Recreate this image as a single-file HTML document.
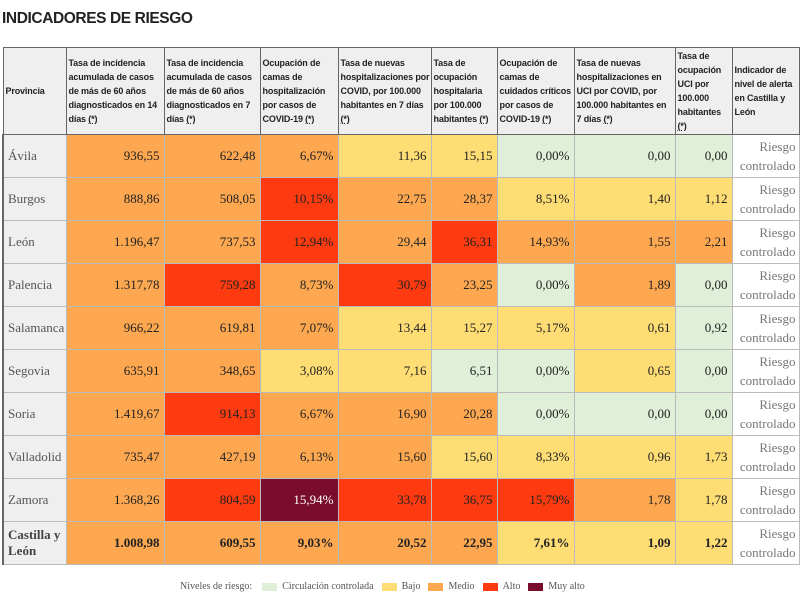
<!DOCTYPE html>
<html><head><meta charset="utf-8"><style>
body{margin:0;width:800px;height:600px;background:#fff;overflow:hidden;position:relative;font-family:"Liberation Serif",serif}
h1{position:absolute;left:2px;top:10px;margin:0;font:bold 15.5px "Liberation Sans",sans-serif;color:#222;letter-spacing:-0.4px}
table{position:absolute;left:2px;top:47px;border-collapse:collapse;table-layout:fixed;width:796px}
th{background:#efefef;border:1px solid #666;font:bold 9px/14px "Liberation Sans",sans-serif;letter-spacing:-0.15px;color:#222;text-align:left;vertical-align:middle;padding:0 1px 0 2px;height:86px}
th u{text-decoration:underline dotted}
td{border:1px solid #bbb;height:42px;padding:0 4px;text-align:right;font-size:13px;color:#222;vertical-align:middle}
td.p{background:#efefef;text-align:left;color:#555;border-left:2px solid #666}
td.w{background:#fff;color:#777;line-height:19px;padding-right:3px}
.G{background:#e0efd7}.Y{background:#fedd75}.O{background:#fda850}.R{background:#fe3b10}.D{background:#7a0c2e;color:#fff}
tr.t td{font-weight:bold}
tr.t td.w{font-weight:normal}
.leg{position:absolute;top:581px;left:180px;font-size:10px;color:#555;white-space:nowrap}
.leg span.s{display:inline-block;width:15px;height:8px;margin:0 5px 0 8px;vertical-align:middle}
</style></head><body>
<h1>INDICADORES DE RIESGO</h1>
<table>
<colgroup><col style="width:63px"><col style="width:98px"><col style="width:96px"><col style="width:78px"><col style="width:93px"><col style="width:66px"><col style="width:77px"><col style="width:101px"><col style="width:57px"><col style="width:67px"></colgroup>
<tr><th>Provincia</th><th>Tasa de incidencia acumulada de casos de más de 60 años diagnosticados en 14 días <u>(*)</u></th><th>Tasa de incidencia acumulada de casos de más de 60 años diagnosticados en 7 días <u>(*)</u></th><th>Ocupación de camas de hospitalización por casos de COVID-19 <u>(*)</u></th><th>Tasa de nuevas hospitalizaciones por COVID, por 100.000 habitantes en 7 días <u>(*)</u></th><th>Tasa de ocupación hospitalaria por 100.000 habitantes <u>(*)</u></th><th>Ocupación de camas de cuidados críticos por casos de COVID-19 <u>(*)</u></th><th>Tasa de nuevas hospitalizaciones en UCI por COVID, por 100.000 habitantes en 7 días <u>(*)</u></th><th>Tasa de ocupación UCI por 100.000 habitantes <u>(*)</u></th><th>Indicador de nivel de alerta en Castilla y León</th></tr>
<tr><td class="p">Ávila</td><td class="O">936,55</td><td class="O">622,48</td><td class="O">6,67%</td><td class="Y">11,36</td><td class="Y">15,15</td><td class="G">0,00%</td><td class="G">0,00</td><td class="G">0,00</td><td class="w">Riesgo controlado</td></tr>
<tr><td class="p">Burgos</td><td class="O">888,86</td><td class="O">508,05</td><td class="R">10,15%</td><td class="O">22,75</td><td class="O">28,37</td><td class="Y">8,51%</td><td class="Y">1,40</td><td class="Y">1,12</td><td class="w">Riesgo controlado</td></tr>
<tr><td class="p">León</td><td class="O">1.196,47</td><td class="O">737,53</td><td class="R">12,94%</td><td class="O">29,44</td><td class="R">36,31</td><td class="O">14,93%</td><td class="O">1,55</td><td class="O">2,21</td><td class="w">Riesgo controlado</td></tr>
<tr><td class="p">Palencia</td><td class="O">1.317,78</td><td class="R">759,28</td><td class="O">8,73%</td><td class="R">30,79</td><td class="O">23,25</td><td class="G">0,00%</td><td class="O">1,89</td><td class="G">0,00</td><td class="w">Riesgo controlado</td></tr>
<tr><td class="p">Salamanca</td><td class="O">966,22</td><td class="O">619,81</td><td class="O">7,07%</td><td class="Y">13,44</td><td class="Y">15,27</td><td class="Y">5,17%</td><td class="Y">0,61</td><td class="G">0,92</td><td class="w">Riesgo controlado</td></tr>
<tr><td class="p">Segovia</td><td class="O">635,91</td><td class="O">348,65</td><td class="Y">3,08%</td><td class="Y">7,16</td><td class="G">6,51</td><td class="G">0,00%</td><td class="Y">0,65</td><td class="G">0,00</td><td class="w">Riesgo controlado</td></tr>
<tr><td class="p">Soria</td><td class="O">1.419,67</td><td class="R">914,13</td><td class="O">6,67%</td><td class="O">16,90</td><td class="O">20,28</td><td class="G">0,00%</td><td class="G">0,00</td><td class="G">0,00</td><td class="w">Riesgo controlado</td></tr>
<tr><td class="p">Valladolid</td><td class="O">735,47</td><td class="O">427,19</td><td class="O">6,13%</td><td class="O">15,60</td><td class="Y">15,60</td><td class="Y">8,33%</td><td class="Y">0,96</td><td class="Y">1,73</td><td class="w">Riesgo controlado</td></tr>
<tr><td class="p">Zamora</td><td class="O">1.368,26</td><td class="R">804,59</td><td class="D">15,94%</td><td class="R">33,78</td><td class="R">36,75</td><td class="R">15,79%</td><td class="O">1,78</td><td class="Y">1,78</td><td class="w">Riesgo controlado</td></tr>
<tr class="t"><td class="p" style="color:#444">Castilla y León</td><td class="O">1.008,98</td><td class="O">609,55</td><td class="O">9,03%</td><td class="O">20,52</td><td class="O">22,95</td><td class="Y">7,61%</td><td class="Y">1,09</td><td class="Y">1,22</td><td class="w">Riesgo controlado</td></tr>
</table>
<div class="leg">Niveles de riesgo:<span class="s" style="background:#e0efd7;margin-left:10px"></span>Circulación controlada<span class="s" style="background:#fedd75"></span>Bajo<span class="s" style="background:#fda850"></span>Medio<span class="s" style="background:#fe3b10"></span>Alto<span class="s" style="background:#7a0c2e"></span>Muy alto</div>
</body></html>
